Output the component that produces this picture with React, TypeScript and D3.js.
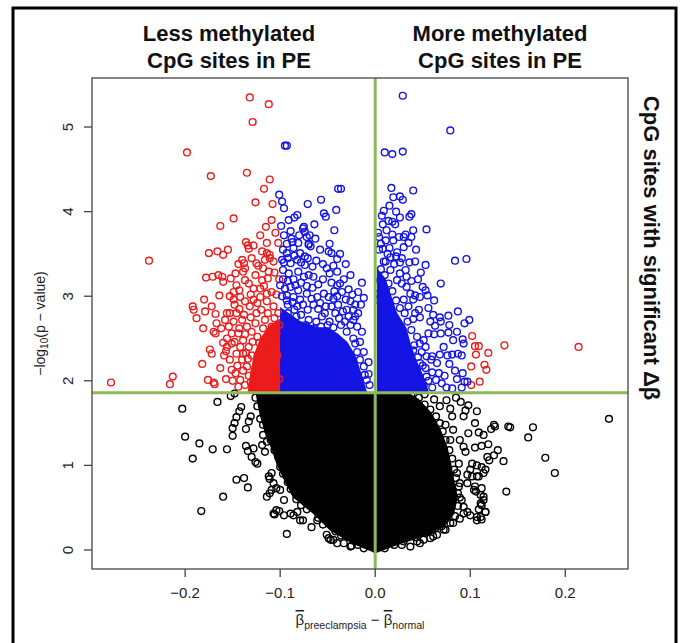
import * as d3 from 'd3';

// axis ticks
const xTicks = [-0.2, -0.1, 0, 0.1, 0.2];
const yTicks = [0, 1, 2, 3, 4, 5];
const pCut = 1.86; // -log10(p) significance line
const dbCut = 0; // delta beta split

// significant, less methylated (red, left) + the few red ones on the right
const redPoints: [number, number][] = [
    [-0.132, 5.35], [-0.112, 5.27], [-0.129, 5.06], [-0.198, 4.70], [-0.173, 4.42], [-0.135, 4.46],
    [-0.111, 4.38], [-0.117, 4.27], [-0.126, 4.11], [-0.108, 4.09], [-0.149, 3.92], [-0.163, 3.83],
    [-0.109, 3.90], [-0.238, 3.42], [-0.278, 1.98], [-0.213, 2.05], [-0.216, 1.96],
    [-0.175, 3.51], [-0.166, 3.53], [-0.155, 3.55], [-0.160, 3.49], [-0.136, 3.64], [-0.134, 3.60],
    [-0.133, 3.56], [-0.114, 3.63], [-0.102, 3.63],
    [-0.178, 3.22], [-0.171, 3.23], [-0.165, 3.25], [-0.161, 3.23], [-0.152, 3.21], [-0.160, 3.17],
    [-0.180, 2.96], [-0.192, 2.88], [-0.191, 2.84], [-0.188, 2.74], [-0.179, 2.82], [-0.172, 2.88],
    [-0.168, 2.79], [-0.164, 3.01], [-0.181, 2.62], [-0.170, 2.58], [-0.168, 2.56], [-0.167, 2.68],
    [-0.174, 2.37], [-0.172, 2.32], [-0.182, 2.20], [-0.163, 2.15], [-0.176, 2.01], [-0.170, 1.98],
    [-0.169, 1.96], [-0.157, 2.02], [-0.159, 2.30], [-0.157, 2.35], [-0.151, 2.13], [-0.156, 2.50],
    [-0.151, 2.44], [-0.156, 2.80], [-0.153, 2.80], [-0.153, 3.00], [-0.149, 2.96], [-0.146, 3.13],
    [-0.140, 3.43], [-0.138, 3.39], [-0.137, 3.33], [-0.139, 3.29], [-0.125, 3.39], [-0.116, 3.43],
    [-0.111, 3.45], [-0.107, 3.41], [-0.118, 3.33], [-0.112, 3.29], [-0.119, 3.53], [-0.114, 3.51],
    [-0.111, 3.49], [-0.126, 3.25], [-0.119, 3.19], [-0.113, 3.21], [-0.137, 3.19], [-0.133, 3.15],
    [-0.128, 3.09], [-0.121, 3.09], [-0.114, 3.03], [-0.109, 3.05],
    [-0.142, 2.99], [-0.137, 2.94], [-0.132, 2.88], [-0.146, 2.80], [-0.140, 2.72], [-0.135, 2.64],
    [-0.144, 2.56], [-0.139, 2.48], [-0.133, 2.40], [-0.146, 2.32], [-0.140, 2.25], [-0.135, 2.17],
    [-0.147, 2.09], [-0.142, 2.01], [-0.137, 1.95], [-0.128, 2.96], [-0.121, 2.99], [-0.114, 2.94],
    [-0.107, 2.88], [-0.102, 2.80], [-0.125, 2.80], [-0.116, 2.72], [-0.109, 2.64], [-0.104, 2.56],
    [-0.154, 2.64], [-0.151, 2.56], [-0.156, 2.40],
    [-0.130, 2.30], [-0.127, 2.12], [-0.131, 1.98], [-0.122, 2.45], [-0.118, 2.20], [-0.124, 2.05],
    [-0.113, 2.38], [-0.106, 2.10], [-0.103, 2.30], [-0.110, 1.95], [-0.101, 2.02], [-0.105, 2.48],
    [-0.148, 2.90], [-0.143, 2.85], [-0.138, 2.78], [-0.131, 2.75], [-0.126, 2.68], [-0.120, 2.84],
    [-0.113, 2.80], [-0.106, 2.74], [-0.101, 2.66], [-0.149, 2.70], [-0.143, 2.62], [-0.137, 2.55],
    [-0.130, 2.58], [-0.124, 2.52], [-0.118, 2.62], [-0.111, 2.58], [-0.104, 2.62], [-0.148, 2.46],
    [-0.142, 2.40], [-0.136, 2.33], [-0.129, 2.46], [-0.145, 2.18], [-0.139, 2.12], [-0.133, 2.06],
    [-0.150, 2.00], [-0.144, 1.93], [-0.139, 2.32], [-0.134, 2.26], [-0.128, 1.93], [-0.153, 2.25],
    [-0.160, 2.45], [-0.162, 2.62], [-0.158, 2.72], [-0.149, 3.05], [-0.143, 3.07], [-0.131, 3.02],
    [-0.124, 2.92], [-0.117, 3.12], [-0.104, 3.02], [-0.101, 3.20], [-0.106, 3.28], [-0.123, 3.36],
    [-0.130, 3.45], [-0.128, 3.60], [-0.121, 3.72], [-0.105, 3.75], [-0.115, 3.82], [-0.144, 3.38],
    [-0.147, 3.27],
    [0.102, 2.53], [0.105, 2.41], [0.109, 2.41], [0.136, 2.42], [0.214, 2.40], [0.119, 2.33],
    [0.106, 2.31], [0.101, 2.17], [0.115, 2.19], [0.117, 2.13], [0.110, 1.99], [0.101, 1.95],
];

// significant, blue
const bluePoints: [number, number][] = [
    [-0.095, 4.78], [-0.093, 4.78],
    [-0.101, 4.20], [-0.098, 4.12], [-0.096, 4.04], [-0.071, 4.09], [-0.057, 4.14], [-0.039, 4.27],
    [-0.036, 4.27], [-0.085, 3.93], [-0.082, 3.96], [-0.054, 3.98], [-0.052, 3.94], [-0.041, 4.02],
    [-0.099, 3.83], [-0.089, 3.77], [-0.076, 3.80], [-0.074, 3.76], [-0.072, 3.70], [-0.043, 3.78],
    [-0.075, 3.82], [-0.069, 3.72],
    [-0.088, 3.68], [-0.087, 3.64], [-0.081, 3.63], [-0.070, 3.61], [-0.097, 3.55], [-0.093, 3.51],
    [-0.086, 3.57], [-0.079, 3.51], [-0.074, 3.47], [-0.068, 3.59], [-0.070, 3.62],
    [-0.049, 3.53], [-0.046, 3.51], [-0.037, 3.50], [-0.040, 3.44], [-0.098, 3.43], [-0.089, 3.39],
    [-0.082, 3.43], [-0.074, 3.37], [-0.066, 3.35],
    [-0.097, 3.31], [-0.091, 3.27], [-0.081, 3.29], [-0.075, 3.23], [-0.070, 3.25], [-0.065, 3.23],
    [-0.051, 3.33], [-0.048, 3.27], [-0.040, 3.29],
    [-0.040, 3.13], [-0.037, 3.15], [-0.014, 3.16], [-0.100, 3.13], [-0.095, 3.09], [-0.089, 3.11],
    [-0.084, 3.13], [-0.081, 3.07],
    [-0.093, 3.01], [-0.086, 2.99], [-0.079, 2.96], [-0.072, 3.03], [-0.067, 2.97], [-0.061, 2.99],
    [-0.054, 3.03], [-0.049, 2.99], [-0.044, 2.97], [-0.040, 3.00],
    [-0.031, 2.96], [-0.026, 2.94], [-0.021, 2.90], [-0.015, 2.90], [-0.023, 2.84], [-0.018, 2.80],
    [-0.021, 2.76], [-0.030, 2.84], [-0.023, 2.72],
    [-0.019, 2.64], [-0.023, 2.50], [-0.021, 2.44], [-0.019, 2.34], [-0.016, 2.25], [-0.012, 2.17],
    [-0.011, 2.07], [-0.009, 2.01],
    [-0.092, 2.90], [-0.085, 2.84], [-0.078, 2.78], [-0.070, 2.72], [-0.062, 2.70], [-0.056, 2.76],
    [-0.048, 2.70], [-0.042, 2.80], [-0.036, 2.66], [-0.030, 2.58], [-0.060, 2.85], [-0.052, 2.88],
    [-0.096, 2.76], [-0.088, 2.70],
    [-0.098, 3.00], [-0.093, 2.95], [-0.087, 2.93], [-0.082, 2.88], [-0.076, 2.90], [-0.071, 2.84],
    [-0.065, 2.90], [-0.058, 2.92], [-0.053, 2.80], [-0.046, 2.88], [-0.039, 2.90], [-0.034, 2.82],
    [-0.028, 2.76], [-0.026, 2.66], [-0.032, 2.70], [-0.038, 2.74], [-0.044, 2.63], [-0.050, 2.66],
    [-0.057, 2.64], [-0.064, 2.62], [-0.073, 2.66], [-0.083, 2.76], [-0.092, 2.80],
    [-0.097, 3.20], [-0.092, 3.18], [-0.086, 3.20], [-0.078, 3.16], [-0.072, 3.12], [-0.066, 3.10],
    [-0.060, 3.14], [-0.055, 3.20], [-0.046, 3.16], [-0.043, 3.06], [-0.035, 3.05], [-0.028, 3.08],
    [-0.024, 3.02], [-0.033, 3.20],
    [-0.096, 3.40], [-0.092, 3.45], [-0.085, 3.48], [-0.078, 3.40], [-0.071, 3.45], [-0.062, 3.42],
    [-0.058, 3.55], [-0.063, 3.68], [-0.080, 3.72], [-0.093, 3.62], [-0.096, 3.72], [-0.091, 3.90],
    [-0.064, 3.85], [-0.048, 3.62], [-0.055, 3.38], [-0.044, 3.36], [-0.031, 3.38], [-0.026, 3.25],
    [-0.018, 3.05], [-0.012, 2.98], [-0.014, 2.58], [-0.016, 2.46], [-0.012, 2.34], [-0.007, 2.22],
    [-0.007, 2.08], [-0.006, 1.95],
    [0.029, 5.37], [0.079, 4.96], [0.010, 4.70], [0.018, 4.68], [0.029, 4.71], [0.017, 4.28],
    [0.040, 4.25], [0.019, 4.17], [0.026, 4.18], [0.029, 4.14], [0.015, 4.07], [0.009, 4.01],
    [0.014, 3.89], [0.018, 3.88], [0.021, 3.85], [0.008, 3.85], [0.026, 3.93], [0.036, 3.94],
    [0.038, 3.97], [0.054, 3.79], [0.040, 3.78],
    [0.018, 3.73], [0.011, 3.66], [0.019, 3.66], [0.025, 3.70], [0.032, 3.73], [0.038, 3.70],
    [0.035, 3.63], [0.030, 3.70], [0.015, 3.57], [0.023, 3.52], [0.022, 3.47],
    [0.009, 3.41], [0.011, 3.41], [0.026, 3.40], [0.036, 3.40], [0.042, 3.41], [0.053, 3.37],
    [0.084, 3.42], [0.096, 3.44], [0.048, 3.28], [0.069, 3.15], [0.050, 3.11], [0.055, 3.01],
    [0.056, 2.86], [0.087, 2.82],
    [0.061, 2.78], [0.068, 2.75], [0.077, 2.77], [0.069, 2.70], [0.078, 2.66], [0.094, 2.68],
    [0.099, 2.72], [0.042, 2.80], [0.047, 2.75], [0.040, 2.73], [0.046, 2.84],
    [0.062, 2.55], [0.069, 2.56], [0.077, 2.57], [0.082, 2.48], [0.092, 2.49], [0.093, 2.44],
    [0.081, 2.31], [0.087, 2.32], [0.091, 2.30], [0.068, 2.31], [0.060, 2.29], [0.059, 2.25],
    [0.065, 2.21], [0.078, 2.20],
    [0.060, 2.10], [0.067, 2.09], [0.073, 2.06], [0.064, 2.01], [0.070, 1.97], [0.092, 2.09],
    [0.086, 2.02], [0.094, 1.99], [0.097, 1.99], [0.091, 1.92], [0.081, 1.91],
    [0.056, 2.56], [0.051, 2.48], [0.053, 2.40], [0.047, 2.44], [0.044, 2.52], [0.040, 2.36],
    [0.049, 2.34], [0.054, 2.29], [0.047, 2.21], [0.053, 2.15], [0.044, 2.11], [0.054, 2.05],
    [0.047, 2.01], [0.051, 1.95], [0.044, 1.93],
    [0.053, 3.07], [0.047, 2.99], [0.040, 2.96], [0.037, 3.03], [0.042, 3.01], [0.033, 3.11],
    [0.035, 2.88], [0.030, 2.96],
    [0.033, 3.23], [0.028, 3.15], [0.026, 3.27], [0.032, 3.31], [0.023, 3.19], [0.016, 3.31],
    [0.005, 3.19], [0.004, 3.03], [0.007, 3.11], [0.012, 2.99],
    [0.004, 3.55], [0.006, 3.62], [0.013, 3.50], [0.003, 3.75],
    [0.004, 2.95], [0.006, 3.32], [0.010, 3.25], [0.014, 3.15], [0.018, 3.06], [0.022, 2.95],
    [0.026, 2.86], [0.031, 2.80], [0.034, 2.70], [0.038, 2.60], [0.041, 2.42], [0.045, 2.28],
    [0.050, 2.18], [0.056, 2.00], [0.060, 1.92], [0.008, 3.56], [0.016, 3.46], [0.020, 3.38],
    [0.028, 3.45], [0.004, 3.70], [0.012, 3.78], [0.007, 3.95], [0.022, 4.00], [0.030, 3.58],
    [0.043, 3.55], [0.045, 3.20], [0.038, 3.18], [0.062, 2.95], [0.063, 2.65], [0.072, 2.40],
    [0.076, 2.30], [0.084, 2.12], [0.075, 1.92], [0.086, 2.58], [0.058, 2.70],
];

// not significant, black
const blackPoints: [number, number][] = [
    [-0.203, 1.67], [-0.200, 1.34], [-0.185, 1.26], [-0.192, 1.08], [-0.171, 1.19], [-0.156, 1.19],
    [-0.166, 1.75], [-0.152, 1.82], [-0.148, 1.85], [-0.141, 1.69], [-0.143, 1.64], [-0.146, 1.57],
    [-0.148, 1.50], [-0.150, 1.44], [-0.150, 1.35], [-0.136, 1.43], [-0.133, 1.52], [-0.131, 1.58],
    [-0.136, 1.23], [-0.134, 1.17], [-0.128, 1.20], [-0.130, 1.10], [-0.126, 1.04], [-0.124, 1.02],
    [-0.146, 0.83], [-0.138, 0.85], [-0.134, 0.74], [-0.160, 0.63], [-0.183, 0.46], [-0.093, 0.19],
    [-0.109, 0.91], [-0.111, 0.84], [-0.107, 0.79], [-0.109, 0.71], [-0.104, 0.73], [-0.111, 0.67],
    [-0.106, 0.42], [-0.101, 0.46], [-0.096, 0.41], [-0.086, 0.41], [-0.082, 0.45], [-0.076, 0.35],
    [-0.067, 0.27], [-0.049, 0.14], [-0.044, 0.12], [-0.033, 0.08], [-0.025, 0.05],
    [-0.118, 1.36], [-0.114, 1.28], [-0.119, 1.24], [-0.116, 1.16],
    [-0.107, 0.43], [-0.104, 0.47], [-0.089, 0.43], [-0.079, 0.35], [-0.061, 0.35],
    [-0.112, 0.87], [-0.114, 0.63], [-0.100, 0.71], [-0.096, 0.59],
    [-0.051, 0.18], [-0.047, 0.12], [-0.040, 0.08], [-0.026, 0.04],
    [-0.126, 1.80], [-0.124, 1.70], [-0.121, 1.55], [-0.118, 1.48], [-0.112, 1.40], [-0.110, 1.30],
    [-0.106, 1.18], [-0.102, 1.10], [-0.100, 0.98], [-0.097, 0.90], [-0.092, 0.80], [-0.089, 0.72],
    [-0.083, 0.60], [-0.078, 0.53], [-0.072, 0.48], [-0.060, 0.38], [-0.055, 0.30], [-0.042, 0.22],
    [-0.036, 0.17], [-0.018, 0.06], [-0.012, 0.02],
    [-0.115, 1.83], [-0.100, 1.82], [-0.085, 1.84], [-0.070, 1.83],
    [0.246, 1.55], [0.166, 1.45], [0.161, 1.33], [0.179, 1.09], [0.189, 0.91], [0.138, 0.69],
    [0.135, 1.05], [0.140, 1.46], [0.142, 1.45], [0.125, 1.48], [0.126, 1.46], [0.122, 1.43],
    [0.107, 1.64], [0.105, 1.50], [0.098, 1.38], [0.109, 1.39], [0.114, 1.36], [0.119, 1.25],
    [0.112, 1.23], [0.105, 1.21], [0.129, 1.18], [0.125, 1.12], [0.120, 1.06], [0.118, 1.10],
    [0.098, 1.71], [0.095, 1.65], [0.093, 1.58], [0.089, 1.30], [0.093, 1.22], [0.095, 1.16],
    [0.102, 1.02], [0.107, 1.00], [0.112, 0.98], [0.116, 0.95], [0.100, 0.95], [0.097, 0.89],
    [0.102, 0.87], [0.109, 0.87],
    [0.105, 0.75], [0.112, 0.73], [0.106, 0.69], [0.111, 0.65], [0.114, 0.59], [0.112, 0.53],
    [0.109, 0.48], [0.116, 0.45], [0.112, 0.36], [0.107, 0.39], [0.100, 0.41],
    [0.075, 1.77], [0.079, 1.67], [0.081, 1.58], [0.074, 1.48], [0.082, 1.42], [0.079, 1.30],
    [0.088, 1.02], [0.086, 0.91], [0.089, 0.79], [0.087, 0.67], [0.091, 0.59], [0.093, 0.51],
    [0.097, 0.45],
    [0.079, 0.32], [0.072, 0.24], [0.065, 0.18], [0.058, 0.14], [0.047, 0.08], [0.037, 0.04],
    [0.028, 0.06], [0.061, 0.16], [0.051, 0.12], [0.044, 0.10],
    [0.114, 0.63], [0.111, 0.55], [0.116, 0.45], [0.111, 0.39], [0.107, 0.35], [0.093, 0.43],
    [0.089, 0.37], [0.079, 0.47], [0.082, 0.32], [0.074, 0.24],
    [0.097, 0.79], [0.104, 0.71], [0.107, 0.87], [0.114, 0.91],
    [0.038, 1.84], [0.046, 1.80], [0.052, 1.72], [0.058, 1.66], [0.064, 1.58], [0.068, 1.50],
    [0.071, 1.40], [0.074, 1.30], [0.078, 1.18], [0.081, 1.08], [0.083, 0.95], [0.085, 0.85],
    [0.088, 0.75], [0.089, 0.62], [0.087, 0.52], [0.084, 0.40], [0.070, 0.28], [0.063, 0.25],
    [0.052, 0.20], [0.042, 0.15], [0.030, 0.10], [0.020, 0.06], [0.010, 0.02],
    [0.012, 1.83], [0.024, 1.82], [0.052, 1.84], [0.062, 1.78], [0.068, 1.70], [0.085, 1.80],
    [0.090, 1.75],
];

// outlines of the parts of each group where circles overlap into a solid patch
const blackCore: [number, number][] = [
    [-0.125, 1.86], [-0.121, 1.62], [-0.116, 1.42], [-0.109, 1.22], [-0.103, 1.02], [-0.095, 0.83],
    [-0.086, 0.63], [-0.065, 0.44], [-0.047, 0.24], [-0.023, 0.08], [-0.005, 0.0], [0.0, -0.03],
    [0.016, 0.04], [0.037, 0.12], [0.058, 0.20], [0.075, 0.32], [0.082, 0.43], [0.086, 0.63],
    [0.082, 0.83], [0.079, 1.02], [0.075, 1.22], [0.068, 1.42], [0.058, 1.62], [0.045, 1.78],
    [0.033, 1.86],
];
const redCore: [number, number][] = [
    [-0.100, 1.88], [-0.100, 2.72], [-0.110, 2.65], [-0.120, 2.50], [-0.127, 2.30], [-0.131, 2.05],
    [-0.133, 1.88],
];
const blueCoreLeft: [number, number][] = [
    [-0.099, 1.88], [-0.099, 2.85], [-0.090, 2.78], [-0.080, 2.70], [-0.070, 2.66], [-0.060, 2.62],
    [-0.050, 2.62], [-0.040, 2.55], [-0.030, 2.45], [-0.022, 2.30], [-0.016, 2.10], [-0.010, 1.88],
];
const blueCoreRight: [number, number][] = [
    [0.003, 1.88], [0.003, 3.30], [0.010, 3.20], [0.016, 3.00], [0.022, 2.80], [0.032, 2.62],
    [0.036, 2.45], [0.042, 2.25], [0.050, 2.05], [0.055, 1.88],
];

const W = 686;
const H = 643;
const box = { left: 92, right: 628, top: 78, bottom: 569 };
const RED = '#ec1c1c';
const BLUE = '#1414e4';
const GREEN = '#8db95a';
const FONT = "'Liberation Sans', Arial, Helvetica, sans-serif";

export default function App() {
    const x = d3.scaleLinear().domain([-0.298, 0.266]).range([box.left, box.right]);
    const y = d3.scaleLinear().domain([-0.225, 5.58]).range([box.bottom, box.top]);
    const area = d3
        .line<[number, number]>()
        .x((d) => x(d[0]))
        .y((d) => y(d[1]))
        .curve(d3.curveLinearClosed);

    const circles = (pts: [number, number][], color: string) =>
        pts.map((d, i) => (
            <circle key={i} cx={x(d[0])} cy={y(d[1])} r={3.4} fill='none' stroke={color} strokeWidth={1.4} />
        ));

    return (
        <svg width={W} height={H} style={{ position: 'absolute', left: 0, top: 0, background: '#fff' }}>
            {/* outer frame, open at the bottom */}
            <path d={`M13,${H + 5} V8 H676 V${H + 5}`} fill='none' stroke='#000' strokeWidth={3} />

            {/* titles */}
            <g fontFamily={FONT} fontWeight='bold' fontSize={22} fill='#111' textAnchor='middle'>
                <text x={229} y={41}>Less methylated</text>
                <text x={229} y={68}>CpG sites in PE</text>
                <text x={500} y={41}>More methylated</text>
                <text x={500} y={68}>CpG sites in PE</text>
                <text transform='translate(644,248) rotate(90)'>CpG sites with significant Δβ</text>
            </g>

            {/* points */}
            <path d={area(blackCore) ?? ''} fill='#000' stroke='#000' strokeWidth={2} />
            {circles(blackPoints, '#000')}
            <path d={area(redCore) ?? ''} fill={RED} stroke={RED} strokeWidth={2} />
            <path d={area(blueCoreLeft) ?? ''} fill={BLUE} stroke={BLUE} strokeWidth={2} />
            <path d={area(blueCoreRight) ?? ''} fill={BLUE} stroke={BLUE} strokeWidth={2} />
            {circles(redPoints, RED)}
            {circles(bluePoints, BLUE)}

            {/* threshold lines */}
            <line x1={x(dbCut)} x2={x(dbCut)} y1={box.top} y2={box.bottom} stroke={GREEN} strokeWidth={3} />
            <line x1={box.left} x2={box.right} y1={y(pCut)} y2={y(pCut)} stroke={GREEN} strokeWidth={3} />

            {/* plot box */}
            <rect x={box.left} y={box.top} width={box.right - box.left} height={box.bottom - box.top}
                fill='none' stroke='#444' strokeWidth={1.3} />

            {/* x axis */}
            <g fontFamily={FONT} fontSize={15} fill='#222' textAnchor='middle'>
                {xTicks.map((t) => (
                    <g key={t}>
                        <line x1={x(t)} x2={x(t)} y1={box.bottom} y2={box.bottom + 8} stroke='#444' strokeWidth={1.3} />
                        <text x={x(t)} y={598}>{d3.format('.1f')(t).replace('-', '−')}</text>
                    </g>
                ))}
            </g>
            <text x={(box.left + box.right) / 2} y={625} fontFamily={FONT} fontSize={15} fill='#222' textAnchor='middle'>
                <tspan style={{ textDecoration: 'overline' }}>β</tspan>
                <tspan fontSize={10.5} dy={4}>preeclampsia</tspan>
                <tspan dy={-4}> − </tspan>
                <tspan style={{ textDecoration: 'overline' }}>β</tspan>
                <tspan fontSize={10.5} dy={4}>normal</tspan>
            </text>

            {/* y axis */}
            <g fontFamily={FONT} fontSize={15} fill='#222' textAnchor='middle'>
                {yTicks.map((t) => (
                    <g key={t}>
                        <line x1={box.left - 8} x2={box.left} y1={y(t)} y2={y(t)} stroke='#444' strokeWidth={1.3} />
                        <text transform={`translate(73,${y(t)}) rotate(-90)`}>{t}</text>
                    </g>
                ))}
            </g>
            <text transform={`translate(45,${(box.top + box.bottom) / 2}) rotate(-90)`} fontFamily={FONT}
                fontSize={14} fill='#222' textAnchor='middle'>
                <tspan>−log</tspan>
                <tspan fontSize={10} dy={3}>10</tspan>
                <tspan dy={-3}>(p − value)</tspan>
            </text>
        </svg>
    );
}
